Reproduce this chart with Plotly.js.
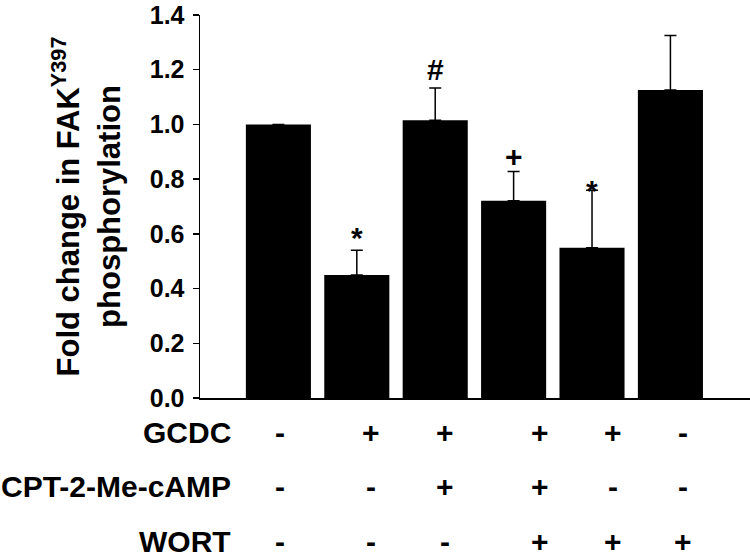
<!DOCTYPE html>
<html><head><meta charset="utf-8">
<script src="https://cdn.plot.ly/plotly-3.0.1.min.js"></script>
<style>html,body{margin:0;padding:0;background:#fff}#chart{width:750px;height:560px}</style>
</head><body><div id="chart"></div>
<script>
// ---- data ----
const groups = [0, 1, 2, 3, 4, 5];
const foldChange = [1.0, 0.45, 1.015, 0.721, 0.549, 1.126];
const errUpper = [0, 0.09, 0.118, 0.107, 0.21, 0.199];
const sigMarks = ['', '*', '#', '+', '*', ''];
const sigY = [null, 0.615, 1.2, 0.883, 0.788, null];
const rowLabels = ['GCDC', 'CPT-2-Me-cAMP', 'WORT'];
const gcdc = ['-', '+', '+', '+', '+', '-'];
const cpt  = ['-', '-', '+', '+', '-', '-'];
const wort = ['-', '-', '-', '+', '+', '+'];
const yTickVals = [0, 0.2, 0.4, 0.6, 0.8, 1.0, 1.2, 1.4];
const yTickText = ['0.0', '0.2', '0.4', '0.6', '0.8', '1.0', '1.2', '1.4'];

// ---- layout constants ----
const FONT = 'Liberation Sans, Arial, Helvetica, sans-serif';
const symbolCols = [0.02, 1.175, 2.131, 3.337, 4.264, 5.165]; // axis units
const rowY = [-0.0898, -0.231, -0.374]; // paper units
const rowSymbols = [gcdc, cpt, wort];

const annotations = [];
groups.forEach((g, i) => {
  if (sigMarks[i]) {
    annotations.push({
      x: g, y: sigY[i], xref: 'x', yref: 'y', text: sigMarks[i], showarrow: false,
      xanchor: 'center', yanchor: 'middle', yshift: sigMarks[i] === '*' ? -8 : 0,
      font: {family: FONT, size: 30, color: '#000', weight: 'bold'}
    });
  }
});
rowLabels.forEach((lab, r) => {
  annotations.push({
    x: -0.58, y: rowY[r], xref: 'x', yref: 'paper', text: lab, showarrow: false,
    xanchor: 'right', yanchor: 'middle',
    font: {family: FONT, size: 30, color: '#000', weight: 'bold'}
  });
  rowSymbols[r].forEach((s, c) => {
    annotations.push({
      x: symbolCols[c], y: rowY[r], xref: 'x', yref: 'paper', text: s, showarrow: false,
      xanchor: 'center', yanchor: 'middle',
      font: {family: FONT, size: 30, color: '#000', weight: 'bold'}
    });
  });
});

const trace = {
  type: 'bar', x: groups, y: foldChange,
  marker: {color: '#000', line: {width: 0}},
  error_y: {type: 'data', symmetric: false, array: errUpper, arrayminus: groups.map(() => 0),
            color: '#000', thickness: 1.5, width: 6},
  hoverinfo: 'none'
};

const layout = {
  width: 750, height: 560,
  margin: {l: 200, r: 0, t: 15, b: 162},
  paper_bgcolor: '#fff', plot_bgcolor: '#fff',
  showlegend: false, bargap: 0.17,
  xaxis: {range: [-1, 6.015], showline: true, linecolor: '#000', linewidth: 1.5,
          showticklabels: false, ticks: '', showgrid: false, zeroline: false, fixedrange: true},
  yaxis: {range: [0, 1.4], tickvals: yTickVals, ticktext: yTickText,
          ticks: 'outside', ticklen: 6, tickwidth: 1.5, tickcolor: '#000',
          ticklabelstandoff: 3,
          showline: true, linecolor: '#000', linewidth: 1.5,
          showgrid: false, zeroline: false, fixedrange: true,
          tickfont: {family: FONT, size: 25, color: '#000', weight: 'bold'},
          title: {text: 'Fold change in FAK<sup>Y397</sup><br>phosphorylation', standoff: 20,
                  font: {family: FONT, size: 31, color: '#000', weight: 'bold'}}},
  annotations: annotations
};

Plotly.newPlot('chart', [trace], layout, {displayModeBar: false, staticPlot: true});
</script></body></html>
